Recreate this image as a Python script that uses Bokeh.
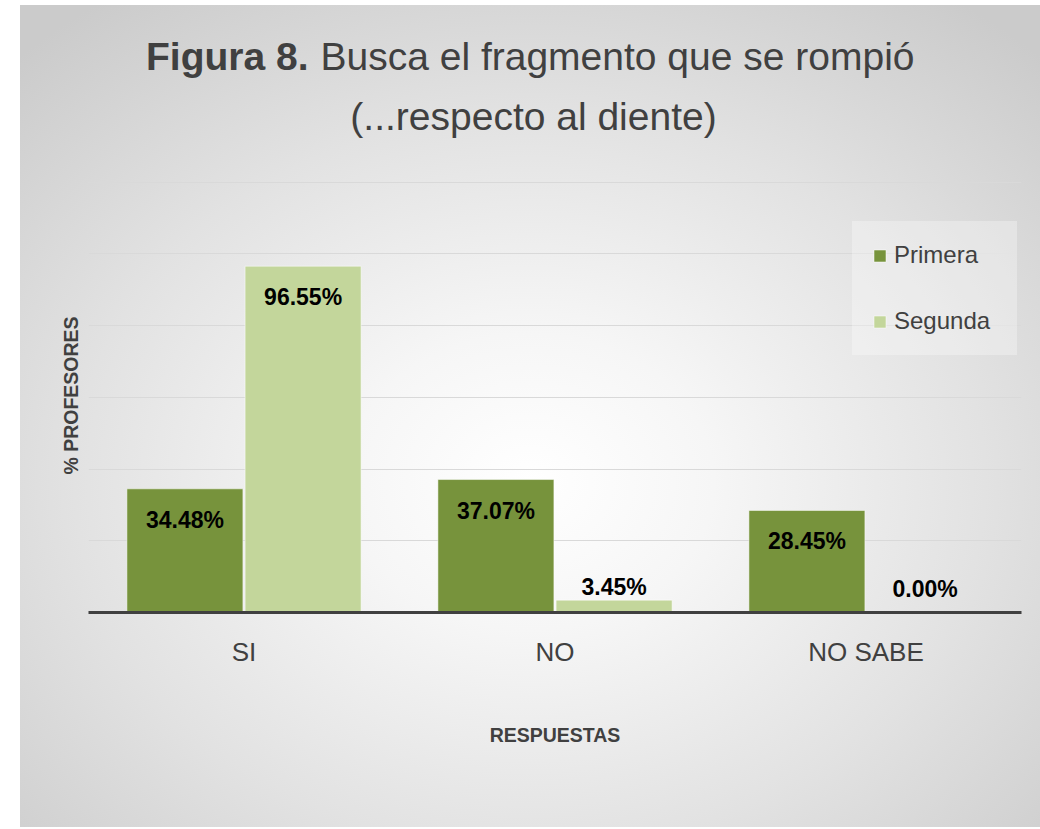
from bokeh.plotting import figure
from bokeh.layouts import column
from bokeh.models import (FactorRange, Range1d, Legend, LegendItem,
                          ColumnDataSource, FixedTicker)
from bokeh.transform import dodge
from bokeh.core.properties import value
from bokeh.embed import file_html
from bokeh.resources import INLINE

# ---------------- data ----------------
categories = ["SI", "NO", "NO SABE"]
series_names = ["Primera", "Segunda"]
primera = [34.48, 37.07, 28.45]
segunda = [96.55, 3.45, 0.00]
y_ticks = [0, 20, 40, 60, 80, 100, 120]
title_bold = "Figura 8."
title_rest = "Busca el fragmento que se rompió"
title_line2 = "(...respecto al diente)"
x_label = "RESPUESTAS"
y_label = "% PROFESORES"

# ---------------- style ----------------
FONT = "Liberation Sans, Arial, sans-serif"
C1 = "#77933C"
C2 = "#C3D69B"
GREY = "#404040"
W = 1020
H_TITLE = 160
H_MAIN = 662
B_LEFT, B_RIGHT = 68, 19
FRAME_W = W - B_LEFT - B_RIGHT

# ---------------- title figure ----------------
pt = figure(width=W, height=H_TITLE, x_range=Range1d(0, FRAME_W), y_range=Range1d(0, H_TITLE),
            output_backend="svg", toolbar_location=None, title=None,
            min_border_left=B_LEFT, min_border_right=B_RIGHT, min_border_top=0, min_border_bottom=0,
            x_axis_location=None, y_axis_location=None,
            background_fill_alpha=0, border_fill_alpha=0, outline_line_color=None)
pt.grid.visible = False
pt.text(x=[220], y=[109], text=[title_bold], text_align="right", text_baseline="middle",
        text_font=value(FONT), text_font_size="39px", text_font_style="bold", text_color=GREY)
pt.text(x=[232], y=[109], text=[title_rest], text_align="left", text_baseline="middle",
        text_font=value(FONT), text_font_size="39px", text_color=GREY)
pt.text(x=[445], y=[49], text=[title_line2], text_align="center", text_baseline="middle",
        text_font=value(FONT), text_font_size="39px", text_color=GREY)

# ---------------- main figure ----------------
p = figure(
    x_range=FactorRange(factors=categories, range_padding=0),
    y_range=Range1d(0, 121),
    width=W, height=H_MAIN, output_backend="svg", toolbar_location=None, title=None,
    min_border_left=B_LEFT, min_border_right=B_RIGHT, min_border_top=13, min_border_bottom=215,
    background_fill_alpha=0, border_fill_alpha=0, outline_line_color=None,
)

# grid
p.xgrid.grid_line_color = None
p.ygrid.ticker = FixedTicker(ticks=y_ticks)
p.ygrid.grid_line_color = "#d9d9d9"
p.ygrid.grid_line_width = 1.2

# y axis: title only (no tick labels in the reference)
p.yaxis.ticker = FixedTicker(ticks=[])
p.yaxis.axis_line_color = None
p.yaxis.major_tick_line_color = None
p.yaxis.minor_tick_line_color = None
p.yaxis.major_label_standoff = 0
p.yaxis.axis_label = y_label
p.yaxis.axis_label_text_font = FONT
p.yaxis.axis_label_text_font_size = "19.5px"
p.yaxis.axis_label_text_font_style = "bold"
p.yaxis.axis_label_text_color = GREY
p.yaxis.axis_label_standoff = 7

# x axis
p.xaxis.axis_line_color = GREY
p.xaxis.axis_line_width = 3
p.xaxis.major_tick_line_color = None
p.xaxis.minor_tick_line_color = None
p.xaxis.major_label_text_font = FONT
p.xaxis.major_label_text_font_size = "26px"
p.xaxis.major_label_text_color = GREY
p.xaxis.major_label_standoff = 18
p.xaxis.axis_label = x_label
p.xaxis.axis_label_text_font = FONT
p.xaxis.axis_label_text_font_size = "19.5px"
p.xaxis.axis_label_text_font_style = "bold"
p.xaxis.axis_label_text_color = GREY
p.xaxis.axis_label_standoff = 54

# bars
BAR_W = 0.373
OFF = 0.19
src = ColumnDataSource(dict(cat=categories, primera=primera, segunda=segunda))
r1 = p.vbar(x=dodge("cat", -OFF, range=p.x_range), top="primera", width=BAR_W, source=src,
            fill_color=C1, line_color="white", line_alpha=0.5, line_width=1)
r2 = p.vbar(x=dodge("cat", OFF, range=p.x_range), top="segunda", width=BAR_W, source=src,
            fill_color=C2, line_color="white", line_alpha=0.5, line_width=1)

# value labels (inside the bar end; above the bar when the bar is too short)
for vals, off in ((primera, -OFF), (segunda, OFF)):
    ins = [i for i, v in enumerate(vals) if v >= 10]
    outs = [i for i, v in enumerate(vals) if v < 10]
    s_in = ColumnDataSource(dict(cat=[categories[i] for i in ins],
                                 y=[vals[i] for i in ins],
                                 t=[f"{vals[i]:.2f}%" for i in ins]))
    s_out = ColumnDataSource(dict(cat=[categories[i] for i in outs],
                                  y=[max(vals[i], 3.0) for i in outs],
                                  t=[f"{vals[i]:.2f}%" for i in outs]))
    p.text(x=dodge("cat", off, range=p.x_range), y="y", text="t", source=s_in,
           text_align="center", text_baseline="middle", y_offset=31,
           text_font=value(FONT), text_font_size="23px", text_font_style="bold",
           text_color="black")
    p.text(x=dodge("cat", off, range=p.x_range), y="y", text="t", source=s_out,
           text_align="center", text_baseline="middle", y_offset=-13,
           text_font=value(FONT), text_font_size="23px", text_font_style="bold",
           text_color="black")

# legend
legend = Legend(items=[LegendItem(label=series_names[0], renderers=[r1]),
                       LegendItem(label=series_names[1], renderers=[r2])],
                location=(764, 257), margin=0, padding=20, spacing=38,
                glyph_height=15, glyph_width=15, label_height=28, label_width=103,
                label_standoff=7,
                label_text_font=FONT, label_text_font_size="24px", label_text_color=GREY,
                background_fill_color="white", background_fill_alpha=0.3,
                border_line_color="white", border_line_alpha=0)
p.add_layout(legend)

layout = column(pt, p, spacing=0, margin=(5, 0, 0, 20),
                styles={"background": "radial-gradient(ellipse 72% 72% at 50% 58%, #ffffff 0%, #f6f6f6 25%, #e2e2e2 62%, #cbcbcb 100%)"})

open("out.html", "w").write(file_html(layout, INLINE))
